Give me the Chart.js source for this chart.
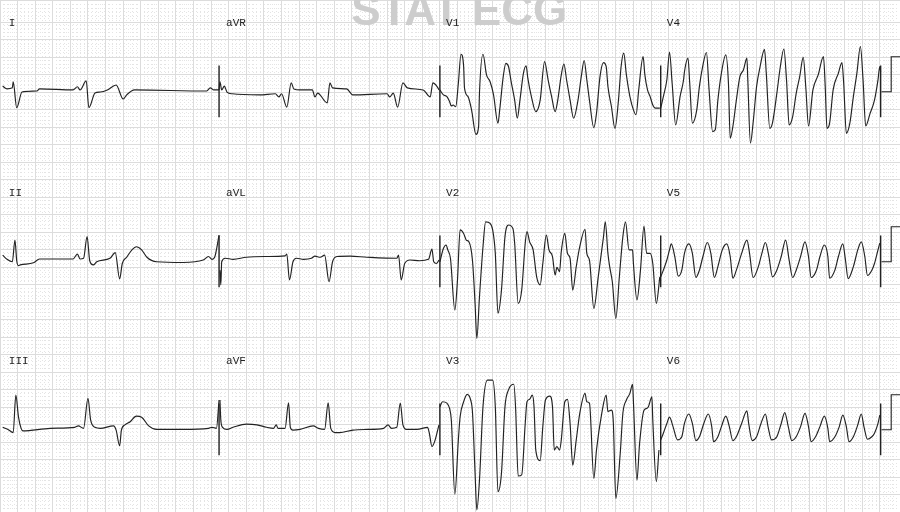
<!DOCTYPE html>
<html>
<head>
<meta charset="utf-8">
<script src="https://cdn.jsdelivr.net/npm/chart.js@4.4.1/dist/chart.umd.min.js"></script>
<style>
  html, body { margin: 0; padding: 0; background: #fff; }
  #wrap { width: 900px; height: 512px; }
</style>
</head>
<body>
<div id="wrap"><canvas id="ecg" width="900" height="512"></canvas></div>
<script>
// 12-lead strip, 25 mm/s, 10 mm/mV
// every lead: [time in s within the 10 s record, mV relative to its row baseline]

const leadI = [[0.03,0.11],[0.08,0.03],[0.14,0.06],[0.15,0.23],[0.19,-0.51],[0.25,-0.06],[0.42,-0.03],[0.45,0.03],
  [0.83,0],[0.88,0.09],[0.91,0],[0.98,0.26],[1.01,-0.51],[1.08,-0.09],[1.14,-0.06],[1.22,0],[1.32,0.14],[1.40,-0.26],
  [1.44,-0.14],[1.53,0],[2.35,-0.03],[2.39,0.06],[2.43,0],[2.49,0]];

const leadAVR = [[2.49,0],[2.50,0.23],[2.52,0],[2.55,0.11],[2.58,-0.06],[2.64,-0.11],[2.95,-0.14],[3.13,-0.11],
  [3.17,-0.2],[3.20,-0.11],[3.26,-0.49],[3.31,0.2],[3.34,0.03],[3.41,0],[3.55,0],[3.58,-0.2],[3.61,-0.09],[3.72,-0.37],
  [3.75,0.2],[3.78,0.06],[3.94,0.03],[4.01,-0.14],[4.40,-0.11],[4.43,-0.2],[4.47,-0.09],[4.52,-0.49],[4.58,0.2],
  [4.63,0.06],[4.81,0],[4.89,-0.2],[4.92,0.2],[4.97,0.09],[4.99,0]];

const leadV1 = [[5.00,0],[5.04,-0.14],[5.08,-0.19],[5.11,-0.33],[5.13,-0.46],[5.15,-0.43],[5.18,-0.48],[5.21,0.19],
  [5.24,1.02],[5.27,0.67],[5.28,0.05],[5.32,-0.19],[5.36,-0.57],[5.41,-1.27],[5.44,-1.05],[5.45,-0.09],[5.49,1.02],
  [5.53,0.43],[5.57,0.24],[5.61,-0.14],[5.66,-0.95],[5.68,-0.57],[5.72,0.38],[5.75,0.76],[5.78,0.67],[5.81,0.24],
  [5.85,-0.29],[5.88,-0.81],[5.91,-0.29],[5.95,0.48],[5.98,0.69],[6.00,0.33],[6.04,-0.19],[6.09,-0.62],[6.14,-0.29],
  [6.19,0.81],[6.23,0.29],[6.27,-0.19],[6.31,-0.62],[6.34,-0.29],[6.38,0.43],[6.41,0.74],[6.44,0.29],[6.48,-0.29],
  [6.52,-0.81],[6.57,-0.29],[6.61,0.43],[6.64,0.84],[6.67,0.29],[6.70,-0.29],[6.75,-1.08],[6.78,-0.67],[6.82,0.38],
  [6.86,0.78],[6.89,0.67],[6.91,0.1],[6.95,-0.48],[6.99,-1.1],[7.03,-0.29],[7.06,0.67],[7.09,1.05],[7.12,0.43],
  [7.16,-0.19],[7.20,-0.57],[7.23,-0.71],[7.26,0],[7.31,0.95],[7.33,0.43],[7.36,0],[7.39,-0.19],[7.42,-0.43],
  [7.45,-0.52],[7.50,-0.52]];

const leadV4 = [[7.51,-0.52],[7.54,-0.19],[7.58,0.29],[7.61,1.08],[7.64,0.19],[7.68,-1.0],[7.73,-0.19],[7.77,0.29],
  [7.78,0.52],[7.82,0.91],[7.84,0.19],[7.87,-0.95],[7.92,-0.57],[7.95,0.1],[7.99,0.71],[8.03,1.07],[8.06,0],
  [8.10,-1.19],[8.13,-1.14],[8.16,-0.29],[8.20,0.48],[8.25,1.0],[8.28,0.19],[8.30,-1.38],[8.33,-1.05],[8.37,-0.29],
  [8.41,0.38],[8.45,0.57],[8.49,0.91],[8.50,0.29],[8.53,-1.52],[8.56,-0.95],[8.60,0.1],[8.64,0.67],[8.69,1.16],
  [8.71,0.48],[8.75,-1.1],[8.78,-0.95],[8.83,-0.1],[8.87,0.67],[8.91,1.17],[8.94,0.29],[8.97,-1.0],[9.01,-0.76],
  [9.05,-0.1],[9.09,0.38],[9.13,0.93],[9.16,0.05],[9.19,-1.03],[9.24,0],[9.30,0.43],[9.36,0.95],[9.38,0.1],
  [9.40,-1.1],[9.43,-0.95],[9.47,0],[9.53,0.48],[9.57,0.78],[9.59,0.19],[9.62,-1.24],[9.66,-0.95],[9.70,-0.19],
  [9.74,0.48],[9.78,1.24],[9.81,0.29],[9.84,-1.03],[9.89,-0.67],[9.94,-0.29],[9.98,0.29],[10.00,0.67],[10.01,0.52]];

const leadII = [[0.03,0.14],[0.08,0.02],[0.14,-0.05],[0.17,0.57],[0.19,-0.02],[0.21,-0.16],[0.23,-0.14],[0.38,-0.08],
  [0.45,0.03],[0.83,0.03],[0.88,0.17],[0.91,0.03],[0.95,0.05],[0.99,0.67],[1.02,-0.02],[1.06,-0.14],[1.10,-0.05],
  [1.25,0.05],[1.31,0.21],[1.36,-0.54],[1.39,-0.1],[1.44,0.08],[1.50,0.29],[1.55,0.38],[1.61,0.29],[1.67,0.08],
  [1.78,-0.05],[2.08,-0.07],[2.31,0],[2.37,0.1],[2.41,0.02],[2.44,0.08],[2.49,0.71]];

const leadAVL = [[2.50,-0.29],[2.51,-0.71],[2.52,-0.05],[2.56,0.05],[2.65,0.02],[2.80,0.08],[3.03,0.1],[3.24,0.12],
  [3.26,0.17],[3.29,-0.57],[3.33,-0.05],[3.37,0.05],[3.45,0.02],[3.54,0.05],[3.58,0.11],[3.64,0.08],[3.69,0.14],
  [3.74,-0.62],[3.78,-0.05],[3.83,0.1],[3.98,0.11],[4.17,0.08],[4.51,0.05],[4.53,0.14],[4.56,-0.57],[4.60,-0.1],
  [4.66,0],[4.77,-0.02],[4.87,0.02],[4.91,0.31],[4.93,-0.05],[4.96,-0.1],[4.99,0]];

const leadV2 = [[5.00,-0.05],[5.04,0.33],[5.07,0.43],[5.09,0.29],[5.12,0.05],[5.17,-1.43],[5.20,-0.57],[5.23,0.86],
  [5.27,0.76],[5.30,0.57],[5.33,0.52],[5.37,0],[5.40,-1.24],[5.42,-2.24],[5.45,-1.05],[5.49,0.38],[5.52,1.09],
  [5.57,1.05],[5.60,0.86],[5.63,0.19],[5.66,-1.52],[5.70,-0.86],[5.74,0.67],[5.78,1.0],[5.83,0.9],[5.85,0.48],
  [5.89,-1.24],[5.93,-0.86],[5.97,0.48],[5.99,0.81],[6.02,0.52],[6.06,0.29],[6.10,-0.48],[6.14,-0.71],[6.17,-0.1],
  [6.21,0.71],[6.24,0.29],[6.28,0.1],[6.31,-0.43],[6.33,-0.21],[6.36,-0.33],[6.38,0.24],[6.42,0.76],[6.45,0.19],
  [6.48,0.05],[6.51,-0.86],[6.55,-0.19],[6.59,0.38],[6.65,0.88],[6.67,0.19],[6.70,0],[6.75,-1.38],[6.80,-0.48],
  [6.86,0.67],[6.88,1.09],[6.91,0.19],[6.93,-0.19],[6.96,-0.62],[7.00,-1.67],[7.04,-0.48],[7.08,0.67],[7.11,1.09],
  [7.15,0.29],[7.19,0.29],[7.20,-0.1],[7.24,-1.14],[7.28,-0.29],[7.32,0.97],[7.35,0.19],[7.39,0.19],[7.42,-0.1],
  [7.46,-1.24],[7.50,-0.48]];

const leadV5 = [[7.51,-0.48],[7.54,-0.29],[7.58,0],[7.61,0.29],[7.63,0.46],[7.67,0.1],[7.71,-0.46],[7.75,-0.29],
  [7.78,0.19],[7.83,0.46],[7.87,0.19],[7.91,-0.5],[7.95,-0.29],[7.99,0.1],[8.04,0.5],[8.08,0.19],[8.12,-0.5],
  [8.16,-0.19],[8.21,0.29],[8.26,0.46],[8.30,0.1],[8.33,-0.52],[8.37,-0.29],[8.43,0.19],[8.49,0.57],[8.52,0.19],
  [8.56,-0.5],[8.62,-0.19],[8.66,0.19],[8.70,0.5],[8.74,0.1],[8.78,-0.48],[8.83,-0.29],[8.88,0.1],[8.93,0.57],
  [8.97,0],[9.01,-0.5],[9.05,-0.29],[9.10,0.1],[9.15,0.52],[9.19,0.1],[9.22,-0.5],[9.28,-0.29],[9.32,0.1],
  [9.37,0.43],[9.41,0.1],[9.43,-0.52],[9.49,-0.29],[9.53,0.1],[9.58,0.46],[9.61,0],[9.64,-0.53],[9.70,-0.19],
  [9.75,0.29],[9.79,0.52],[9.83,0.1],[9.86,-0.44],[9.91,-0.29],[9.94,-0.1],[9.98,0.29],[10.00,0.48]];

const leadIII = [[0.03,0.02],[0.09,-0.04],[0.15,-0.13],[0.18,0.94],[0.21,0.32],[0.24,-0.01],[0.26,-0.08],[0.57,-0.01],
  [0.85,0.02],[0.89,0.06],[0.95,-0.01],[1.00,0.85],[1.03,0.23],[1.08,0.02],[1.14,-0.01],[1.29,0.06],[1.32,-0.06],
  [1.36,-0.51],[1.38,-0.06],[1.42,0.09],[1.48,0.18],[1.55,0.34],[1.61,0.31],[1.69,0.06],[1.78,-0.04],[2.08,-0.04],
  [2.37,-0.01],[2.41,0.02],[2.46,-0.01],[2.49,0.8]];

const leadAVF = [[2.50,0.8],[2.51,0.23],[2.53,0.02],[2.58,-0.04],[2.65,0.02],[2.80,0.11],[2.92,0.09],[3.03,0.02],
  [3.11,-0.01],[3.14,0.09],[3.16,-0.01],[3.24,-0.01],[3.28,0.72],[3.30,0.02],[3.33,-0.06],[3.41,-0.04],[3.56,0.06],
  [3.62,-0.01],[3.69,-0.04],[3.73,0.72],[3.76,-0.01],[3.81,-0.13],[3.86,-0.13],[4.01,-0.06],[4.17,-0.04],
  [4.36,-0.01],[4.41,0.09],[4.45,-0.01],[4.51,0.02],[4.55,0.71],[4.58,0.09],[4.62,-0.04],[4.74,-0.04],[4.86,0.02],
  [4.88,-0.15],[4.91,-0.53],[4.94,-0.39],[4.97,-0.11],[4.99,0.09]];

const leadV3 = [[5.00,0.61],[5.03,0.75],[5.08,0.71],[5.11,0.56],[5.13,0.23],[5.17,-1.89],[5.21,-0.34],[5.23,0.32],
  [5.27,0.75],[5.31,0.96],[5.35,0.8],[5.37,0.47],[5.40,-1.29],[5.42,-2.34],[5.45,-1.49],[5.49,0.61],[5.54,1.37],
  [5.60,1.37],[5.63,0.61],[5.66,-1.82],[5.70,-1.29],[5.74,0.61],[5.78,1.09],[5.84,1.25],[5.86,0.61],[5.89,-1.37],
  [5.93,-1.34],[5.97,0.13],[5.99,0.75],[6.02,0.82],[6.05,0.94],[6.07,0.61],[6.09,-0.63],[6.14,-0.93],[6.17,0.04],
  [6.20,0.8],[6.25,0.91],[6.28,0.61],[6.30,-0.63],[6.33,-0.53],[6.36,-0.63],[6.38,-0.34],[6.42,0.75],[6.45,0.82],
  [6.48,0.13],[6.51,-1.06],[6.55,-0.34],[6.59,0.42],[6.65,0.99],[6.67,0.75],[6.70,0.71],[6.75,-1.44],[6.78,-0.63],
  [6.84,0.42],[6.89,0.94],[6.91,0.47],[6.95,0.51],[6.97,0.23],[7.00,-2.01],[7.05,-0.72],[7.08,0.42],[7.12,0.8],
  [7.16,0.99],[7.19,1.25],[7.20,0.75],[7.24,-1.49],[7.27,-0.44],[7.32,0.51],[7.35,0.56],[7.37,0.61],[7.41,0.89],
  [7.42,0.23],[7.46,-1.53],[7.49,-0.63]];

const leadV6 = [[7.51,-0.34],[7.54,-0.15],[7.58,0.13],[7.61,0.31],[7.65,0.04],[7.70,-0.34],[7.75,-0.25],[7.78,0.13],
  [7.83,0.4],[7.87,0.13],[7.91,-0.36],[7.95,-0.25],[8.00,0.13],[8.05,0.4],[8.09,0.04],[8.11,-0.39],[8.16,-0.25],
  [8.20,0.04],[8.25,0.34],[8.29,0.04],[8.33,-0.36],[8.37,-0.25],[8.43,0.13],[8.49,0.49],[8.51,0.13],[8.55,-0.36],
  [8.60,-0.25],[8.65,0.13],[8.70,0.4],[8.73,0.04],[8.77,-0.34],[8.83,-0.25],[8.88,0.13],[8.92,0.44],[8.96,0.04],
  [9.00,-0.36],[9.05,-0.25],[9.10,0.04],[9.15,0.42],[9.19,0.04],[9.22,-0.39],[9.27,-0.25],[9.32,0.04],[9.37,0.34],
  [9.41,-0.01],[9.43,-0.39],[9.49,-0.25],[9.54,0.04],[9.58,0.37],[9.62,0.04],[9.65,-0.39],[9.70,-0.25],[9.75,0.09],
  [9.79,0.4],[9.82,0.04],[9.86,-0.32],[9.91,-0.25],[9.94,-0.15],[9.98,0.13],[10.00,0.37]];

// lead-change ticks and the 1 mV calibration step at the end of each row
const markerTimes = [2.49, 5.0, 7.51, 10.01];
const markerRange = [-0.78, 0.7];
const calPulse = [[10.02,-0.05],[10.13,-0.05],[10.13,0.95],[10.24,0.95]];

const leadNames = [['I', 'aVR', 'V1', 'V4'], ['II', 'aVL', 'V2', 'V5'], ['III', 'aVF', 'V3', 'V6']];
const leadRows = [[leadI, leadAVR, leadV1, leadV4], [leadII, leadAVL, leadV2, leadV5], [leadIII, leadAVF, leadV3, leadV6]];
const labelTimes = [0.1, 2.57, 5.07, 7.58];
const watermark = 'STAT ECG';

// page layout: record spans 0..10.23 s, rows sit 4.8 mV apart
const X_MAX = 10.23;
const Y_MAX = 14.63;
const ROW_BASE = [12.06, 7.2, 2.4];
const LABEL_MV = 1.9;
const INK = '#222';

const datasets = [];
leadRows.forEach((row, r) => {
  row.forEach(lead => {
    datasets.push({
      data: lead.map(([t, v]) => ({ x: t, y: ROW_BASE[r] + v })),
      borderColor: INK,
      borderWidth: 1.15,
      pointRadius: 0,
      cubicInterpolationMode: 'monotone',
    });
  });
  const ticks = [];
  for (const t of markerTimes) {
    ticks.push({ x: t, y: ROW_BASE[r] + markerRange[0] }, { x: t, y: ROW_BASE[r] + markerRange[1] }, { x: t, y: null });
  }
  datasets.push({ data: ticks, borderColor: INK, borderWidth: 1.4, pointRadius: 0, tension: 0, spanGaps: false });
  datasets.push({
    data: calPulse.map(([t, v]) => ({ x: t, y: ROW_BASE[r] + v })),
    borderColor: INK, borderWidth: 1.1, pointRadius: 0, tension: 0,
  });
});

const ecgText = {
  id: 'ecgText',
  beforeDatasetsDraw(chart) {
    const { ctx, chartArea, scales: { x } } = chart;
    ctx.save();
    ctx.fillStyle = '#cdcdcd';
    ctx.font = 'bold 44px "Liberation Sans", Arial, sans-serif';
    ctx.textAlign = 'center';
    ctx.textBaseline = 'alphabetic';
    ctx.fillText(watermark, x.getPixelForValue(5.22), chartArea.top + 25);
    ctx.restore();
  },
  afterDatasetsDraw(chart) {
    const { ctx, scales: { x, y } } = chart;
    ctx.save();
    ctx.fillStyle = '#222';
    ctx.font = '11px "Liberation Mono", "DejaVu Sans Mono", monospace';
    ctx.textAlign = 'left';
    ctx.textBaseline = 'middle';
    leadNames.forEach((names, r) => {
      names.forEach((name, c) => {
        ctx.fillText(name, x.getPixelForValue(labelTimes[c]), y.getPixelForValue(ROW_BASE[r] + LABEL_MV));
      });
    });
    ctx.restore();
  }
};

const gridAxis = (axis, position, max, step, color, dash) => ({
  type: 'linear',
  axis,
  position,
  min: 0,
  max,
  ticks: { display: false, stepSize: step, autoSkip: false },
  grid: { color, lineWidth: 1, drawTicks: false, tickLength: 0 },
  border: { display: false, dash },
});

new Chart(document.getElementById('ecg'), {
  type: 'line',
  data: { datasets },
  options: {
    responsive: false,
    animation: false,
    devicePixelRatio: 1,
    layout: { padding: 0 },
    plugins: { legend: { display: false }, tooltip: { enabled: false } },
    elements: { line: { fill: false } },
    scales: {
      xMinor: gridAxis('x', 'bottom', X_MAX, 0.04, '#e4e4e4', [1, 3]),
      yMinor: gridAxis('y', 'left', Y_MAX, 0.1, '#e4e4e4', [1, 3]),
      x: gridAxis('x', 'bottom', X_MAX, 0.2, '#dcdcdc', []),
      y: gridAxis('y', 'left', Y_MAX, 0.5, '#dcdcdc', []),
    }
  },
  plugins: [ecgText]
});
</script>
</body>
</html>
